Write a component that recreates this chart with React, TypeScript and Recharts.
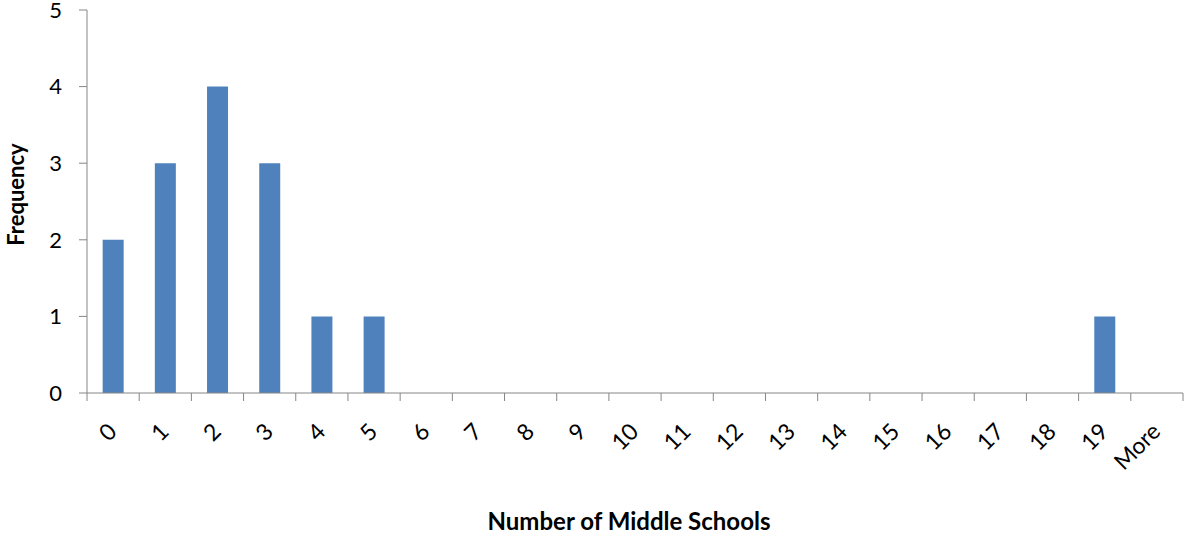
import { BarChart, Bar, XAxis, YAxis, Label } from 'recharts';

const categories = ['0', '1', '2', '3', '4', '5', '6', '7', '8', '9', '10', '11', '12', '13', '14', '15', '16', '17', '18', '19', 'More'];
const frequency = [2, 3, 4, 3, 1, 1, 0, 0, 0, 0, 0, 0, 0, 0, 0, 0, 0, 0, 0, 1, 0];
const yTicks = [0, 1, 2, 3, 4, 5];

const data = categories.map((bin, i) => ({ bin, frequency: frequency[i] }));

const AXIS = '#868686';
const FONT = 'Lato, "Open Sans", sans-serif';
const BAND = (1183 - 87) / categories.length;

function BinTick(props: any) {
  const { x, y, payload, index } = props;
  const top = y - 10; // axis line y
  const ax = x + 5;
  const ay = y + 30;
  return (
    <g>
      <line x1={x - BAND / 2} x2={x - BAND / 2} y1={top} y2={top + 8} stroke={AXIS} />
      {index === categories.length - 1 && (
        <line x1={x + BAND / 2} x2={x + BAND / 2} y1={top} y2={top + 8} stroke={AXIS} />
      )}
      <text
        x={ax}
        y={ay}
        textAnchor="end"
        fontSize={23}
        fontFamily={FONT}
        fill="#000"
        transform={`rotate(-45, ${ax}, ${ay})`}
      >
        {payload.value}
      </text>
    </g>
  );
}

function XTitle({ viewBox }: any) {
  const cx = viewBox.x + viewBox.width / 2 - 6;
  return (
    <text x={cx} y={530} textAnchor="middle" fontSize={24} fontWeight="bold" fontFamily={FONT} fill="#000">
      Number of Middle Schools
    </text>
  );
}

function YTitle({ viewBox }: any) {
  const cy = viewBox.y + viewBox.height / 2 - 7;
  return (
    <text
      x={24}
      y={cy}
      textAnchor="middle"
      fontSize={22}
      fontWeight="bold"
      fontFamily={FONT}
      fill="#000"
      transform={`rotate(-90, 24, ${cy})`}
    >
      Frequency
    </text>
  );
}

export default function App() {
  return (
    <div style={{ position: 'absolute', left: 0, top: 0, background: '#fff' }}>
      <BarChart
        width={1184}
        height={535}
        data={data}
        margin={{ top: 10, right: 1, left: 0, bottom: 0 }}
        barCategoryGap="30%"
      >
        <XAxis
          dataKey="bin"
          height={142}
          interval={0}
          stroke={AXIS}
          tickLine={false}
          tickSize={0}
          tickMargin={10}
          tick={<BinTick />}
        >
          <Label content={<XTitle />} />
        </XAxis>
        <YAxis
          width={87}
          domain={[0, 5]}
          ticks={yTicks}
          interval={0}
          stroke={AXIS}
          tickSize={8}
          tickMargin={17}
          tick={{ fill: '#000', fontSize: 22, fontFamily: FONT }}
        >
          <Label content={<YTitle />} />
        </YAxis>
        <Bar dataKey="frequency" fill="#4F81BD" isAnimationActive={false} />
      </BarChart>
    </div>
  );
}
